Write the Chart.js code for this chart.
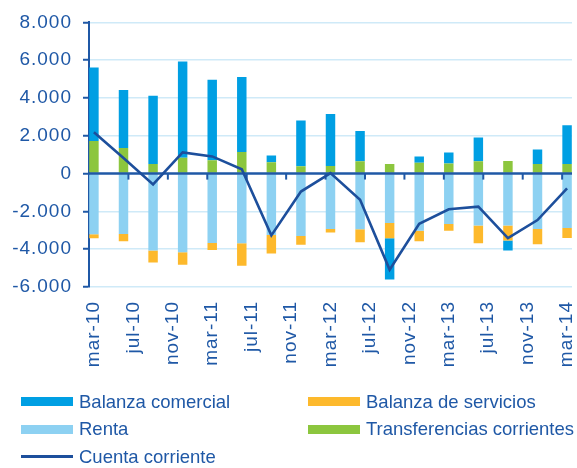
<!DOCTYPE html>
<html>
<head>
<meta charset="utf-8">
<script src="https://cdn.jsdelivr.net/npm/chart.js@4.4.1/dist/chart.umd.min.js"></script>
<style>
html, body { margin: 0; padding: 0; background: #fff; }
#wrap { position: relative; width: 577px; height: 468px; overflow: hidden; }
#leyenda {
    position: absolute; left: 21px; top: 388px;
    display: grid; grid-template-columns: 287px 280px; grid-auto-rows: 27.5px;
    font: 18.5px 'Liberation Sans', Arial, sans-serif; color: #1F58A6;
}
.item { display: flex; align-items: center; white-space: nowrap; }
.sw { width: 52px; height: 9px; margin-right: 6px; flex-shrink: 0; }
.sw.linea { height: 3px; }
</style>
</head>
<body>
<div id="wrap">
    <canvas id="canvas" width="577" height="468"></canvas>
    <div id="leyenda"></div>
</div>
<script>
// trimestres con dato
var trimestres = ['mar-10', 'jun-10', 'sep-10', 'dic-10', 'mar-11', 'jun-11', 'sep-11', 'dic-11',
    'mar-12', 'jun-12', 'sep-12', 'dic-12', 'mar-13', 'jun-13', 'sep-13', 'dic-13', 'mar-14']

var balanzaComercial = [3890, 3070, 3610, 5090, 4260, 3970, 360, 2420, 2760, 1600, -2180, 330, 580, 1260, -530, 770, 2050]
var balanzaServicios = [-210, -390, -630, -660, -370, -1190, -980, -470, -190, -680, -810, -560, -350, -950, -790, -810, -530]
var renta = [-3210, -3190, -4070, -4160, -3670, -3680, -3250, -3300, -2930, -2950, -2610, -3020, -2670, -2740, -2750, -2930, -2880]
var transferencias = [1720, 1350, 510, 840, 700, 1140, 600, 390, 400, 650, 510, 580, 540, 650, 670, 510, 510]
var cuentaCorriente = [2190, 830, -570, 1120, 910, 230, -3270, -950, 30, -1380, -5080, -2660, -1890, -1750, -3410, -2460, -780]

var yTicks = [-6000, -4000, -2000, 0, 2000, 4000, 6000, 8000]

// eje mensual, etiqueta cada 4 meses
var mesesNombres = ['ene', 'feb', 'mar', 'abr', 'may', 'jun', 'jul', 'ago', 'sep', 'oct', 'nov', 'dic']
var meses = []
for (var a = 10; a <= 14; a++) {
    for (var m = 0; m < 12; m++) {
        if ((a == 10 && m < 2) || (a == 14 && m > 2)) continue
        meses.push(mesesNombres[m] + '-' + a)
    }
}

var colorEje = '#1F58A6'
var colorGrid = '#CFEAF8'
var fuente = "'Liberation Sans', Arial, sans-serif"

function serie(valores) {
    return valores.map((v, i) => ({ x: trimestres[i], y: v }))
}

function formato(v) {
    var s = String(Math.abs(v)).replace(/\B(?=(\d{3})+(?!\d))/g, '.')
    return (v < 0 ? '-' : '') + s
}

var espaciado = {
    id: 'espaciado',
    beforeLayout: function(chart) { chart.ctx.letterSpacing = '1px' },
    beforeDraw: function(chart) { chart.ctx.letterSpacing = '1px' }
}

// linea del cero y marcas del eje de categorias
var ejeCero = {
    id: 'ejeCero',
    beforeDatasetDraw: function(chart, args) {
        if (args.meta.type !== 'line') return
        var ctx = chart.ctx, x = chart.scales.x, y = chart.scales.y
        var y0 = y.getPixelForValue(0)
        ctx.save()
        ctx.strokeStyle = colorEje
        ctx.lineWidth = 2.5
        ctx.beginPath()
        ctx.moveTo(chart.chartArea.left, y0)
        ctx.lineTo(chart.chartArea.right, y0)
        ctx.stroke()
        ctx.lineWidth = 2
        for (var k = 4; k < meses.length; k += 4) {
            var px = (x.getPixelForValue(k - 1) + x.getPixelForValue(k)) / 2
            ctx.beginPath()
            ctx.moveTo(px, y0)
            ctx.lineTo(px, y0 + 6)
            ctx.stroke()
        }
        ctx.restore()
    }
}

var datasets = [{
    label: 'Transferencias corrientes', data: serie(transferencias), backgroundColor: '#8CC63E', order: 1
}, {
    label: 'Renta', data: serie(renta), backgroundColor: '#8DD1F2', order: 1
}, {
    label: 'Balanza de servicios', data: serie(balanzaServicios), backgroundColor: '#FDB92C', order: 1
}, {
    label: 'Balanza comercial', data: serie(balanzaComercial), backgroundColor: '#009FE3', order: 1
}, {
    type: 'line', label: 'Cuenta corriente', data: serie(cuentaCorriente), borderColor: '#1D4F9C',
    backgroundColor: '#1D4F9C', borderWidth: 2.6, pointRadius: 0, tension: 0, stack: 'cc', order: 0
}]
datasets.forEach(d => { if (!d.type) { d.barPercentage = 1; d.categoryPercentage = 0.96; d.borderWidth = 0 } })

var ctx = document.getElementById('canvas').getContext('2d')
var chart = new Chart(ctx, {
    type: 'bar',
    data: { labels: meses, datasets: datasets },
    plugins: [espaciado, ejeCero],
    options: {
        responsive: false,
        animation: false,
        layout: { padding: { top: 22, right: 5, left: 0, bottom: 0 } },
        plugins: { legend: { display: false }, tooltip: { enabled: false } },
        scales: {
            x: {
                stacked: true,
                grid: { display: false },
                border: { display: false },
                ticks: {
                    autoSkip: false, maxRotation: 90, minRotation: 90, padding: 6,
                    color: colorEje, font: { family: fuente, size: 19 },
                    callback: function(v, i) { return i % 4 == 0 ? meses[i] : '' }
                },
                afterFit: function(s) { s.height = 181; s.paddingLeft = 0; s.paddingRight = 0 }
            },
            y: {
                stacked: true,
                min: -6000, max: 8000,
                afterBuildTicks: function(s) { s.ticks = yTicks.map(v => ({ value: v })) },
                grid: {
                    color: c => c.tick && c.tick.value === 0 ? 'rgba(0,0,0,0)' : colorGrid,
                    lineWidth: 1.5, tickLength: 6, tickColor: colorEje, tickWidth: 2
                },
                border: { display: true, color: colorEje, width: 2 },
                ticks: {
                    padding: 11, color: colorEje, font: { family: fuente, size: 19 },
                    callback: v => formato(v)
                },
                afterFit: function(s) { s.width = 89 }
            }
        }
    }
})

// leyenda en dos columnas
var ordenLeyenda = ['Balanza comercial', 'Balanza de servicios', 'Renta', 'Transferencias corrientes', 'Cuenta corriente']
var leyenda = document.getElementById('leyenda')
ordenLeyenda.forEach(function(nombre) {
    var d = datasets.find(ds => ds.label == nombre)
    var item = document.createElement('div')
    item.className = 'item'
    var sw = document.createElement('span')
    sw.className = 'sw' + (d.type == 'line' ? ' linea' : '')
    sw.style.background = d.type == 'line' ? d.borderColor : d.backgroundColor
    var txt = document.createElement('span')
    txt.textContent = nombre
    item.appendChild(sw)
    item.appendChild(txt)
    leyenda.appendChild(item)
})
</script>
</body>
</html>
